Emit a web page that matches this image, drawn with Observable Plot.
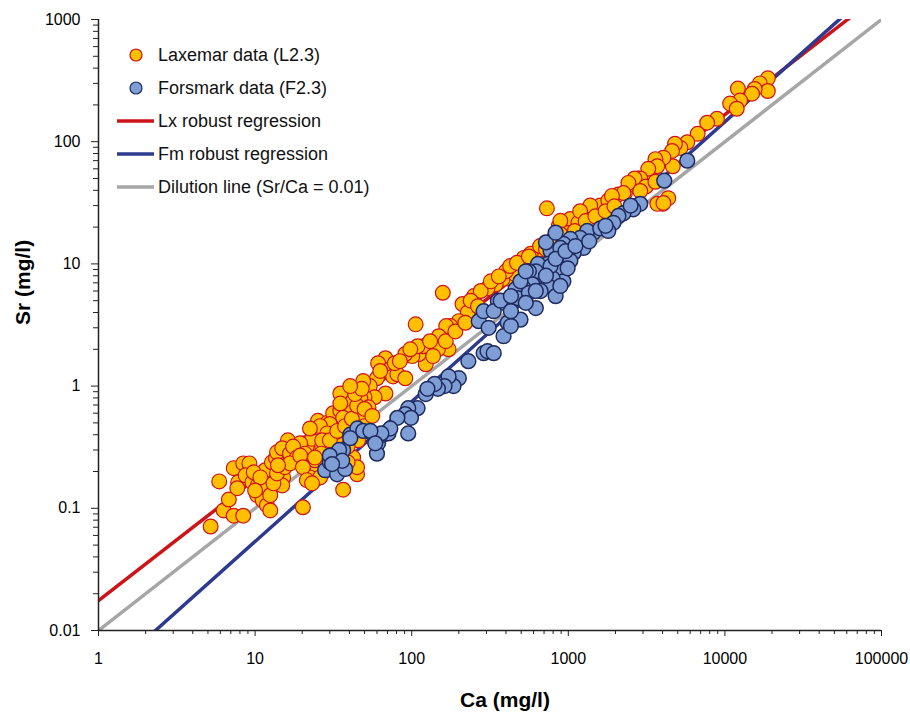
<!DOCTYPE html>
<html><head><meta charset="utf-8">
<script src="https://cdn.jsdelivr.net/npm/d3@7"></script>
<script src="https://cdn.jsdelivr.net/npm/@observablehq/plot@0.6"></script>
<style>
body{margin:0;background:#fff;font-family:Arial,"Liberation Sans",sans-serif;}
#wrap{position:relative;width:910px;height:715px;}
#legend{position:absolute;left:117px;top:38px;font-size:18px;color:#111;line-height:1;}
.item{display:flex;align-items:center;height:33px;}
.item svg{width:37px;height:16px;margin-right:4px;flex:none;}
</style></head><body><div id="wrap"><div id="legend"></div></div>
<script>
// Laxemar data (L2.3): Ca and Sr (mg/l)
const laxCa = [5.2,5.9,6.3,6.8,7.3,7.3,7.8,8.4,8.4,9.2,8.7,9.6,10.4,10.3,11.2,11.9,12.5,11.9,11.6,12.8,13.6,15.1,14.9,13.8,16.2,14.9,16.7,18.5,19.4,20.2,20.8,21.4,23.1,24.1,25.2,24.9,22.4,26,24.1,28,26.8,29.3,28.9,31.5,35,39,36.5,41.5,36.5,44.8,45.5,52.5,36,
158,106,310,250,211,228,200,177,166,149,172,147,123,123,111,101,91,118,109,98,68,61,73,76,81,91,60,54,68,58,50,47,53,48,40.5,39,35,35,36.5,30,26,22.4,28.9,26.8,19.4,17.5,20.8,18.5,26.5,24.1,42.3,44.8,39,45.5,39,
730,870,1030,1160,1320,1490,1600,1800,2090,2300,2490,2800,3340,4000,3700,990,810,740,640,575,495,450,410,380,344,305,276,460,520,
18800,16700,18800,15500,14900,12100,12500,10800,11900,8900,7700,6700,5750,5200,4800,4600,4650,4050,3600,3700,3240,2880,2650,2420,2250,4350,4050,
3130,1900,1380,1190,890,320,400,530,660,880,63,49,78,44,50,
7.7,9.8,10.8,10,12.5,13.1,13.8,15.5,16.7,14,19.4,20.2,21.4,23.1,
30,33.5,37.5,41.5,44.8,50,56,43.5,48,40.5,
84,131,137,165,190,220,238,265,
360,425,470,560,720,890,1100,1290,1490,1730,1970,2880,3600];
const laxSr = [0.071,0.166,0.096,0.118,0.087,0.213,0.163,0.087,0.233,0.233,0.186,0.163,0.154,0.128,0.116,0.106,0.096,0.146,0.205,0.238,0.257,0.179,0.154,0.287,0.36,0.31,0.28,0.31,0.247,0.102,0.34,0.32,0.37,0.46,0.52,0.217,0.179,0.179,0.247,0.238,0.32,0.41,0.5,0.6,0.63,0.65,0.52,0.217,0.142,0.19,0.63,0.63,0.33,
5.8,3.2,6.3,5.45,4.7,4.0,3.4,3.1,3.1,2.56,2.0,2.0,1.86,1.51,1.83,1.76,1.83,2.12,2.12,2.0,1.69,1.54,1.38,1.2,1.25,1.16,1.16,1.0,0.87,0.81,0.81,0.79,0.67,0.56,0.63,0.79,0.87,0.72,0.55,0.49,0.47,0.45,0.41,0.36,0.34,0.32,0.28,0.26,0.28,0.26,0.26,0.217,0.238,0.36,0.32,
28.5,20.5,23.3,21.7,26,25.5,30,33,37,38,45,50,55,31,31,17.9,16.3,14,12.8,12.1,10.2,9.2,7.6,7.5,6.8,6.3,6.0,8.2,11.2,
330,300,260,270,247,272,217,205,186,154,143,116,99,89,96,84,63,74,72,63,60,50,50,46,38,34.5,31.5,
43,36,30,27,22.5,7.2,8.7,10.1,14,15.5,1.33,1.1,1.54,0.43,0.47,
0.146,0.197,0.179,0.14,0.128,0.16,0.193,0.217,0.233,0.225,0.27,0.217,0.17,0.16,
0.36,0.43,0.47,0.54,0.69,0.65,0.57,0.86,0.95,1.0,
1.6,2.33,1.76,2.33,2.8,3.3,5.0,4.5,
7.9,9.6,10.2,11.5,13.2,17.5,18.6,22.4,24.5,27,29.6,39.5,47];

// Forsmark data (F2.3): Ca and Sr (mg/l)
const fmCa = [28,30,31.5,35,36.5,33.4,37.6,40.5,45,49,56,61,60,65.5,71,
268,288,310,288,230,200,185,172,162,147,140,123,126,109,95,91,99,81,95,73,64,54.5,40.5,58.5,34.4,30,36,31,
4100,2880,2600,2250,2090,1940,1440,1320,1190,1250,1030,1080,930,890,770,740,870,930,1030,990,795,700,665,740,640,620,560,590,520,460,475,560,620,535,495,410,386,430,386,355,334,305,334,
5750,2500,1600,1800,720,830,890,
370,430,665,830,890,770,830,960,1110,1360,1730,495,535,720,620,430];
const fmSr = [0.205,0.238,0.27,0.29,0.30,0.19,0.21,0.40,0.45,0.43,0.41,0.34,0.28,0.40,0.41,
3.4,4.1,3.0,1.86,1.6,1.16,1.0,1.2,1.0,0.95,1.04,0.86,0.95,0.66,0.66,0.59,0.55,0.55,0.41,0.45,0.41,0.43,0.375,0.34,0.30,0.27,0.245,0.23,
48,31,28,26,24.7,21.7,17.9,18.6,16.3,13.5,16,12.3,14.6,11.2,12.8,10,8.7,7.2,10.6,9.2,7.6,8.7,7.2,6.6,10,8.7,8.7,6.8,6.3,6.2,5.25,5.8,4.35,4.8,3.5,3.3,2.56,3.1,4.8,5.0,4.1,1.93,1.86,
70,30,19.5,18.6,15,18,13.5,
5.0,4.1,6.0,5.45,6.6,9.6,11,12.7,14,15.3,20.5,7.2,8.7,8.0,6.0,5.45];

// Fitted lines Sr = a * Ca^b
const lxFit = {a: 0.0176, b: 0.994};
const fmFit = {a: 0.00383, b: 1.145};
const dilFit = {a: 0.01, b: 1};

const xTicks = [1, 10, 100, 1000, 10000, 100000];
const yTicks = [0.01, 0.1, 1, 10, 100, 1000];
const xMinor = xTicks.slice(0, -1).flatMap(d => [2,3,4,5,6,7,8,9].map(m => m * d));
const yMinor = yTicks.slice(0, -1).flatMap(d => [2,3,4,5,6,7,8,9].map(m => +(m * d).toPrecision(3)));

const legendItems = [
  {label: "Laxemar data (L2.3)", kind: "dot", fill: "#FFC000", stroke: "#D0121B"},
  {label: "Forsmark data (F2.3)", kind: "dot", fill: "#7F9ED6", stroke: "#1F2B5E"},
  {label: "Lx robust regression", kind: "line", stroke: "#CC1419"},
  {label: "Fm robust regression", kind: "line", stroke: "#2E3A8F"},
  {label: "Dilution line (Sr/Ca = 0.01)", kind: "line", stroke: "#A6A6A6"}
];

const lax = laxCa.map((c, i) => ({ca: c, sr: laxSr[i]}));
const fm = fmCa.map((c, i) => ({ca: c, sr: fmSr[i]}));
const fitLine = f => [1, 100000].map(ca => ({ca, sr: f.a * Math.pow(ca, f.b)}));

const axisColor = "#222";
const chart = Plot.plot({
  width: 910, height: 715,
  marginTop: 19, marginBottom: 85, marginLeft: 98, marginRight: 29,
  style: {fontFamily: 'Arial, "Liberation Sans", sans-serif', background: "#fff", color: "#000"},
  x: {type: "log", domain: [1, 100000]},
  y: {type: "log", domain: [0.01, 1000]},
  marks: [
    Plot.line(fitLine(dilFit), {x: "ca", y: "sr", stroke: "#A6A6A6", strokeWidth: 3.5, clip: true}),
    Plot.line(fitLine(lxFit), {x: "ca", y: "sr", stroke: "#CC1419", strokeWidth: 3.5, clip: true}),
    Plot.line(fitLine(fmFit), {x: "ca", y: "sr", stroke: "#2E3A8F", strokeWidth: 3.5, clip: true}),
    Plot.dot(lax, {x: "ca", y: "sr", r: 7.4, fill: "#FFC000", stroke: "#D0121B", strokeWidth: 1.2}),
    Plot.dot(fm, {x: "ca", y: "sr", r: 7.4, fill: "#7F9ED6", stroke: "#1F2B5E", strokeWidth: 1.5}),
    Plot.axisX({ticks: xMinor, tickSize: 4, tickFormat: () => "", label: null, stroke: axisColor}),
    Plot.axisX({ticks: xTicks, tickSize: 6, tickPadding: 16, tickFormat: d => String(d), fontSize: 16, label: null, stroke: axisColor}),
    Plot.axisY({ticks: yMinor, tickSize: 5, tickFormat: () => "", label: null, stroke: axisColor}),
    Plot.axisY({ticks: yTicks, tickSize: 7, tickPadding: 11, tickFormat: d => String(d), fontSize: 16, label: null, stroke: axisColor}),
    Plot.ruleX([1], {stroke: axisColor, strokeWidth: 1.5}),
    Plot.ruleY([0.01], {stroke: axisColor, strokeWidth: 1.5}),
    Plot.text(["Ca (mg/l)"], {text: d => d, frameAnchor: "bottom", dx: 15, dy: 70, lineAnchor: "middle", fontSize: 21, fontWeight: "bold", fill: "#000"}),
    Plot.text(["Sr (mg/l)"], {text: d => d, frameAnchor: "left", dx: -75, rotate: -90, lineAnchor: "middle", fontSize: 21, fontWeight: "bold", fill: "#000"})
  ]
});
const wrap = document.getElementById("wrap");
wrap.insertBefore(chart, wrap.firstChild);

const legend = document.getElementById("legend");
for (const it of legendItems) {
  const row = document.createElement("div");
  row.className = "item";
  const sw = it.kind === "dot"
    ? `<svg viewBox="0 0 37 16"><circle cx="19" cy="8" r="6" fill="${it.fill}" stroke="${it.stroke}" stroke-width="1.2"/></svg>`
    : `<svg viewBox="0 0 37 16"><line x1="0" x2="37" y1="8" y2="8" stroke="${it.stroke}" stroke-width="3.5"/></svg>`;
  row.innerHTML = sw + `<span>${it.label}</span>`;
  legend.appendChild(row);
}
</script>
</body></html>
